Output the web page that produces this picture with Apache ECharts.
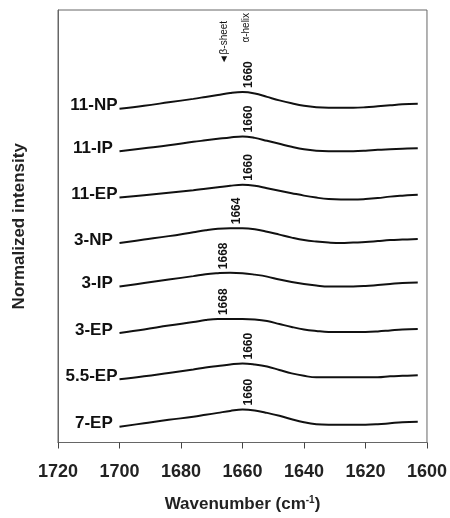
<!DOCTYPE html>
<html>
<head>
<meta charset="utf-8">
<script src="https://cdn.jsdelivr.net/npm/echarts@6/dist/echarts.min.js"></script>
<style>
html, body { margin: 0; padding: 0; background: #fff; }
#chart { width: 450px; height: 518px; }
</style>
</head>
<body>
<div id="chart"></div>
<script>
// wavenumber grid, cm-1
const wavenumbers = [1700, 1692, 1684, 1676, 1672, 1668, 1664, 1660, 1656, 1652, 1648, 1644, 1640, 1636, 1632, 1628, 1624, 1620, 1616, 1612, 1608, 1603];
const xTicks = [1720, 1700, 1680, 1660, 1640, 1620, 1600];

const sampleNames = ['11-NP', '11-IP ', '11-EP', '3-NP ', '3-IP ', '3-EP ', '5.5-EP', '7-EP '];
// stacking offset of each trace
const offsets = [338, 295, 248, 202, 158, 111, 64, 16];
// peak position written above each trace
const peakLabels = ['1660', '1660', '1660', '1664', '1668', '1668', '1660', '1660'];

// normalized intensity (relative to the 1700 point)
const np11 = [0, 3, 6.5, 10, 12, 14, 16, 17, 15.5, 12, 8.5, 5.5, 3, 1.5, 1, 1, 1, 1.5, 2.5, 3.5, 4.5, 5];
const ip11 = [0, 3, 6, 9.5, 11, 12.5, 14, 15, 13.5, 10.5, 7.5, 4.5, 2, 0.5, 0, 0, 0, 0.5, 1.5, 2, 2.5, 3];
const ep11 = [0, 2.5, 5, 7.5, 9, 10.5, 12, 13, 12, 9.5, 7, 4.5, 2, 0, -1.5, -2, -2, -1.5, -0.5, 1, 2, 3];
const np3 = [0, 3.5, 7, 11, 13, 14.5, 15, 15, 14, 11.5, 8.5, 5.5, 3, 1.5, 0.5, 0, 0.5, 1, 2, 3, 3.5, 4];
const ip3 = [0, 3.5, 7, 10.5, 12.5, 13.5, 14, 13.5, 12, 10, 7, 4.5, 2.5, 1, 0, 0, 0, 0.5, 1.5, 2.5, 3.5, 4];
const ep3 = [0, 3.5, 7.5, 11, 13, 14, 14, 14, 13.5, 12, 9, 6, 3.5, 2, 1, 1, 1, 1, 1.5, 2.5, 3.5, 4];
const ep55 = [0, 3, 6.5, 10, 12, 13.5, 15, 16, 15, 13, 9.5, 6, 3.5, 2, 2, 2, 2, 2, 2, 3, 3.5, 4];
const ep7 = [0, 3.5, 7, 10, 12, 14, 16, 17.5, 16.5, 14, 11, 7.5, 4.5, 2.5, 2, 2, 2, 2, 2.5, 3.5, 4.5, 5];
const traces = [np11, ip11, ep11, np3, ip3, ep3, ep55, ep7];

const FONT = 'Arial, "Liberation Sans", "DejaVu Sans", sans-serif';
const INK = '#111';

let myChart = echarts.init(document.getElementById('chart'));

let series = traces.map(function (t, i) {
  let pts = wavenumbers.map(function (w, j) { return [w, offsets[i] + t[j]]; });
  let pk = Number(peakLabels[i]);
  let pkIdx = wavenumbers.indexOf(pk);
  let marks = [
    {
      coord: pts[0],
      label: {
        position: 'left', distance: 2, offset: [0, -3],
        formatter: sampleNames[i], fontSize: 17, fontWeight: 'bold'
      }
    },
    {
      coord: pts[pkIdx],
      label: {
        position: 'top', distance: 4, rotate: 90, align: 'left', verticalAlign: 'top',
        formatter: peakLabels[i], fontSize: 12, fontWeight: 'bold'
      }
    }
  ];
  if (i === 0) {
    // band assignments at the top
    marks.push({
      coord: [1665.8, 383],
      label: { position: 'inside', rotate: 90, align: 'left', verticalAlign: 'middle', formatter: '◄β-sheet', fontSize: 10 }
    });
    marks.push({
      coord: [1658.7, 405],
      label: { position: 'inside', rotate: 90, align: 'left', verticalAlign: 'middle', formatter: 'α-helix', fontSize: 10 }
    });
  }
  return {
    name: sampleNames[i].trim(),
    type: 'line',
    smooth: 0.4,
    symbol: 'none',
    lineStyle: { color: INK, width: 2 },
    data: pts,
    markPoint: {
      symbol: 'circle',
      symbolSize: 0,
      silent: true,
      label: { show: true, color: INK, fontFamily: FONT },
      data: marks
    }
  };
});

myChart.setOption({
  animation: false,
  grid: {
    left: 58, right: 22, top: 10, bottom: 70,
    show: true, borderColor: '#666', borderWidth: 1
  },
  xAxis: {
    type: 'value',
    min: 1600, max: 1720, interval: 20,
    inverse: true,
    splitLine: { show: false },
    axisLine: { show: true, lineStyle: { color: '#666', width: 1 } },
    axisTick: { show: true, length: 6, lineStyle: { color: '#444' } },
    axisLabel: {
      color: '#222', fontSize: 18, fontWeight: 'bold', fontFamily: FONT, margin: 21,
      formatter: function (v) { return xTicks.indexOf(v) >= 0 ? String(v) : ''; }
    },
    name: 'Wavenumber (cm{sup|-1})',
    nameLocation: 'middle',
    nameGap: 53,
    nameTextStyle: {
      color: '#222', fontSize: 17, fontWeight: 'bold', fontFamily: FONT,
      rich: { sup: { fontSize: 10, fontWeight: 'bold', fontFamily: FONT, color: '#222', verticalAlign: 'top', padding: [0, 0, 8, 0] } }
    }
  },
  yAxis: {
    type: 'value',
    min: 0, max: 438,
    splitLine: { show: false },
    axisLine: { show: true, lineStyle: { color: '#666', width: 1 } },
    axisTick: { show: false },
    axisLabel: { show: false },
    name: 'Normalized intensity',
    nameLocation: 'middle',
    nameGap: 30,
    nameTextStyle: { color: '#222', fontSize: 17, fontWeight: 'bold', fontFamily: FONT }
  },
  series: series
});
</script>
</body>
</html>
